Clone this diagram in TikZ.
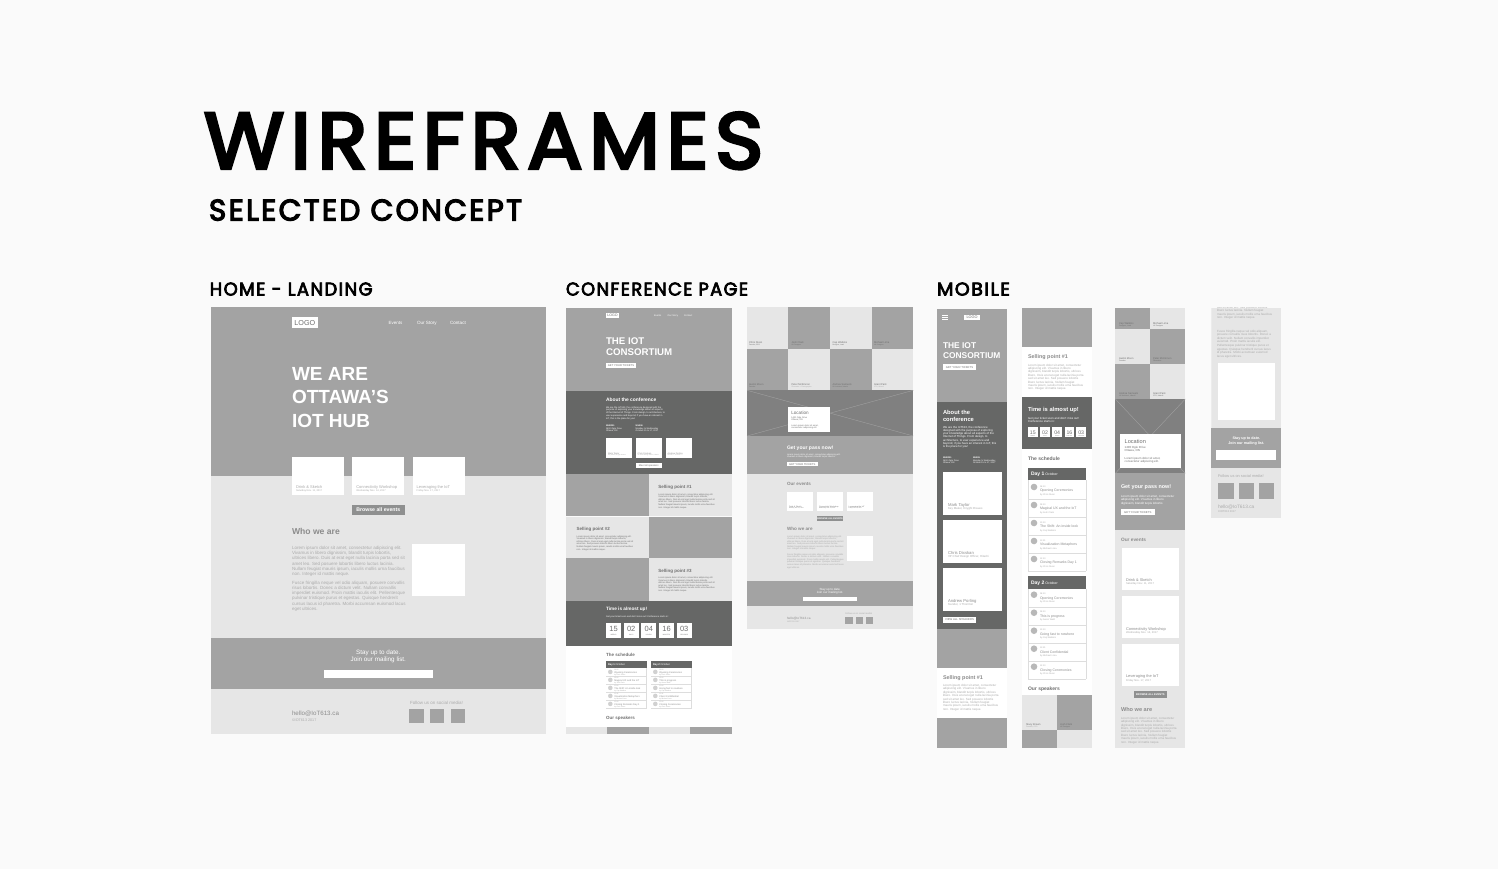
\documentclass[tikz,border=0pt]{standalone}
\usepackage{fontspec}
\usepackage{graphicx}
\setmainfont{Liberation Sans}
\newfontfamily\wfhead[LetterSpace=8,FakeBold=4]{Poppins}
\definecolor{cBg}{HTML}{FAFAFA}
\definecolor{cG}{HTML}{A3A3A3}
\definecolor{cL}{HTML}{E6E6E6}
\definecolor{cD}{HTML}{666766}
\definecolor{cM}{HTML}{808080}
\definecolor{cBtn}{HTML}{8F9090}
\definecolor{cTx}{HTML}{8C8C8C}
\definecolor{cTs}{HTML}{ABABAB}
\definecolor{cTd}{HTML}{707070}
\definecolor{cLn}{HTML}{DDDDDD}
\tikzset{wflbl/.style={inner sep=0pt,outer sep=0pt,anchor=base west},
 wfctr/.style={inner sep=0pt,outer sep=0pt,anchor=base}}
% rectangle x1 y1 x2 y2 colour
\newcommand{\wfR}[5]{\fill[#5] (#1,#2) rectangle (#3,#4);}
% text x y size colour text
\newcommand{\wfT}[5]{\node[wflbl,text=#4,font=\fontsize{#3}{#3}\selectfont] at (#1,#2) {#5};}
\newcommand{\wfB}[5]{\node[wflbl,text=#4,font=\fontsize{#3}{#3}\selectfont\bfseries] at (#1,#2) {#5};}
\newcommand{\wfC}[5]{\node[wfctr,text=#4,font=\fontsize{#3}{#3}\selectfont] at (#1,#2) {#5};}
\newcommand{\wfCB}[5]{\node[wfctr,text=#4,font=\fontsize{#3}{#3}\selectfont\bfseries] at (#1,#2) {#5};}
% lines x y step size colour {{l1},{l2}}
\newcommand{\wfP}[6]{\foreach \wfln [count=\wfi from 0] in {#6} {\pgfmathsetmacro{\wfyy}{#2+#3*\wfi}\node[wflbl,text=#5,font=\fontsize{#4}{#4}\selectfont] at (#1,\wfyy) {\wfln};}}
% heading x y(baseline) w h text
\newcommand{\wfH}[5]{\node[wflbl,text=black] at (#1,#2) {\resizebox{#3pt}{#4pt}{\wfhead #5}};}
\newcommand{\LoremA}[5]{\wfP{#1}{#2}{#3}{#4}{#5}{{Lorem ipsum dolor sit amet, consectetur adipiscing elit.},{Vivamus in libero dignissim, blandit turpis lobortis,},{ultrices libero. Duis at erat eget nulla lacinia porta sed sit},{amet leo. Sed posuere lobortis libero luctus lacinia.},{Nullam feugiat mauris ipsum, iaculis mollis urna faucibus},{non.  Integer id mattis neque.}}}
\newcommand{\LoremB}[5]{\wfP{#1}{#2}{#3}{#4}{#5}{{Fusce fringilla neque vel odio aliquam, posuere convallis},{risus lobortis. Donec a dictum velit. Nullam convallis},{imperdiet euismod. Proin mattis iaculis elit. Pellentesque},{pulvinar tristique purus et egestas. Quisque hendrerit},{cursus lacus id pharetra. Morbi accumsan euismod lacus},{eget ultrices.}}}
\newcommand{\LoremM}[5]{\wfP{#1}{#2}{#3}{#4}{#5}{{Lorem ipsum dolor sit amet, consectetur},{adipiscing elit. Vivamus in libero},{dignissim, blandit turpis lobortis, ultrices},{libero. Duis at erat eget nulla lacinia porta},{sed sit amet leo. Sed posuere lobortis},{libero luctus lacinia. Nullam feugiat},{mauris ipsum, iaculis mollis urna faucibus},{non. Integer id mattis neque.}}}
% small schedule row: x ytop time title by
\newcommand{\wfRowS}[5]{\fill[cLn!80!cG] (#1+4.3,#2+3.6) circle (2.3);
 \wfT{#1+8.3}{#2+2.5}{1.7}{cTs}{#3}\wfT{#1+8.3}{#2+4.7}{2.4}{cTx}{#4}\wfT{#1+8.3}{#2+6.7}{1.7}{cTs}{#5}
 \draw[cLn,line width=.3pt] (#1,#2+8) -- (#1+40.7,#2+8);}
\newcommand{\wfRowB}[5]{\fill[cTs!85!white] (#1+6,#2+5.7) circle (3.3);
 \wfT{#1+12}{#2+5.7}{2.2}{cTs}{#3}\wfT{#1+12}{#2+10.4}{3.5}{cTx}{#4}\wfT{#1+12}{#2+13.7}{2.3}{cTs}{#5}
 \draw[cLn,line width=.5pt] (#1,#2+18) -- (#1+58,#2+18);}
\begin{document}
\begin{tikzpicture}[x=1pt,y=-1pt]
\useasboundingbox (0,0) rectangle (1498,869);
\fill[cBg] (0,0) rectangle (1498,869);
% headings
\wfH{204}{168.5}{559}{56}{WIREFRAMES}
\wfH{209}{220.5}{313}{21}{SELECTED CONCEPT}
\wfH{209.8}{295.5}{162.8}{13}{HOME - LANDING}
\wfH{566}{295.5}{182}{13}{CONFERENCE PAGE}
\wfH{937}{295.5}{73}{13}{MOBILE}
% ---------- HOME
\wfR{211}{307.3}{546}{476}{cG}
\wfR{211}{476}{546}{638}{cL}
\wfR{211}{638}{546}{689}{cG}
\wfR{211}{689}{546}{733.5}{cL}
\wfR{292}{317.3}{317.7}{327.7}{white}
\wfC{304.8}{325.3}{7.2}{cTd}{LOGO}
\wfT{388.7}{324.7}{4.5}{white}{Events}
\wfT{417}{324.7}{4.6}{white}{Our Story}
\wfT{450}{324.7}{4.6}{white}{Contact}
\wfB{292}{380}{19}{white}{WE ARE}
\wfB{292}{403.7}{19}{white}{OTTAWA’S}
\wfB{292}{427.3}{19}{white}{IOT HUB}
\wfR{292}{457}{344.3}{495.3}{white}
\wfR{352.3}{457}{404.3}{495.3}{white}
\wfR{412.7}{457}{464.7}{495.3}{white}
\wfT{296}{488.6}{4}{cTs}{Drink \& Sketch}\wfT{296}{491.8}{2.5}{cTs}{Saturday Nov. 11, 2017}
\wfT{356.3}{488.6}{4}{cTs}{Connectivity Workshop}\wfT{356.3}{491.8}{2.5}{cTs}{Wednesday Nov. 14, 2017}
\wfT{416.7}{488.6}{4}{cTs}{Leveraging the IoT}\wfT{416.7}{491.8}{2.5}{cTs}{Friday Nov. 17, 2017}
\wfR{352}{505}{404.7}{514.7}{cBtn}
\wfCB{378.3}{511.9}{5.2}{white}{Browse all events}
\wfB{292}{534.7}{8.6}{cTx}{Who we are}
\LoremA{292}{549.5}{5.2}{4.5}{cTs}
\LoremB{292}{584.3}{5.2}{4.5}{cTs}
\wfR{412.3}{544.3}{464.7}{596.3}{white}
\wfC{378.3}{654.8}{6.3}{white}{Stay up to date.}
\wfC{378.3}{661.9}{6.3}{white}{Join our mailing list.}
\wfR{324}{670}{432.7}{678}{white}
\wfT{292}{715.7}{6.2}{cTx}{hello@IoT613.ca}
\wfT{292}{721.3}{3.7}{cTs}{©IOT613 2017}
\wfT{410}{704.7}{4.5}{cTs}{Follow us on social media!}
\wfR{409.3}{709.3}{423.7}{723.3}{cG}
\wfR{430}{709.3}{444.3}{723.3}{cG}
\wfR{451}{709.3}{465}{723.3}{cG}
% ---------- CONFERENCE PAGE 1
\wfR{565.7}{307.7}{732}{391}{cG}
\wfR{565.7}{391}{732}{474}{cD}
\wfR{606}{312.7}{619}{318}{white}
\wfC{612.5}{316.6}{3.6}{cTd}{LOGO}
\wfT{654}{316.5}{2.4}{white}{Events}
\wfT{667.7}{316.5}{2.4}{white}{Our Story}
\wfT{684}{316.5}{2.4}{white}{Contact}
\wfB{606}{344}{9.7}{white}{THE IOT}
\wfB{606}{355.7}{9.7}{white}{CONSORTIUM}
\wfR{606}{363.3}{636}{368}{white}
\wfC{621}{366.6}{2.7}{cTd}{GET YOUR TICKETS}
\wfB{606}{401.7}{4.9}{white}{About the conference}
\wfP{606}{408}{2.75}{2.35}{white}{{We are the IoT613, the conference designed with the},{purpose of exploring your knowledge about all aspects},{of the Internet of Things. From design, to architecture, to},{user experience and beyond, if you have an interest in},{IoT, this is the place for you!}}
\wfP{606}{426.3}{2.7}{2.2}{white}{{\bfseries WHERE:},{1400 Ogle Drive},{Ottawa, ON}}
\wfP{635.7}{426.3}{2.7}{2.2}{white}{{\bfseries WHEN:},{Monday to Wednesday},{October 15 to 17, 2017}}
\wfR{606}{438.3}{631.7}{457.7}{white}
\wfR{635.7}{438.3}{661.7}{457.7}{white}
\wfR{665.7}{438.3}{691.7}{457.7}{white}
\wfT{608}{454.2}{2.2}{cTx}{Mark Taylor}\wfT{608}{455.9}{1.5}{cTs}{Key Maker, Knyght Draues}
\wfT{637.7}{454.2}{2.2}{cTx}{Chris Dixskan}\wfT{637.7}{455.9}{1.5}{cTs}{VP Chief Design Officer, Hitachi}
\wfT{667.7}{454.2}{2.2}{cTx}{Andrew Porling}\wfT{667.7}{455.9}{1.5}{cTs}{founder, 1 Thornton}
\wfR{635.7}{463.3}{661.7}{468}{white}
\wfC{648.7}{466.6}{2.5}{cTd}{Meet all speakers}
% selling rows
\wfR{565.7}{474}{648.5}{516.3}{cG}
\wfR{649}{474}{732}{516.3}{cL}
\wfR{565.7}{516.7}{648.5}{557.9}{cL}
\wfR{649}{516.7}{732}{557.9}{cG}
\wfR{565.7}{558.4}{648.5}{600.7}{cG}
\wfR{649}{558.4}{732}{600.7}{cL}
\wfB{658.3}{488.3}{4.5}{cTd}{Selling point \#1}
\LoremA{658.3}{495}{2.6}{2.25}{cTd}
\wfB{576.7}{530}{4.5}{cTd}{Selling point \#2}
\LoremA{576.7}{537}{2.6}{2.25}{cTd}
\wfB{658.3}{572}{4.5}{cTd}{Selling point \#3}
\LoremA{658.3}{578.5}{2.6}{2.25}{cTd}
\wfR{565.7}{600.7}{732}{646}{cD}
\wfB{606}{610.7}{4.7}{white}{Time is almost up!}
\wfT{606}{617.3}{2.3}{white}{Get your ticket soon and don't miss out! Conference starts in:}
\foreach \nx/\nv/\nl in {606/15/WEEKS,623.7/02/DAYS,641.3/04/HOURS,659/16/MINUTES,676.7/03/SECONDS}{
 \wfR{\nx}{623.3}{\nx+15}{638.3}{white}
 \wfC{\nx+7.5}{631.8}{7.5}{cTd}{\nv}
 \wfC{\nx+7.5}{635.6}{1.6}{cTd}{\nl}
}
\wfR{565.7}{646}{732}{727.3}{white}
\wfB{606}{656.7}{4.5}{cTd}{The schedule}
\wfR{606}{661}{646.7}{668}{cD}
\wfR{651}{661}{691.7}{668}{cD}
\wfT{608}{665.6}{2.6}{white}{\textbf{Day 1} October}
\wfT{653}{665.6}{2.6}{white}{\textbf{Day 2} October}
\wfRowS{606}{668.3}{08:30}{Opening Ceremonies}{by Chris Dixon}
\wfRowS{606}{676.3}{09:30}{Magical UX and the IoT}{by Josh Clark}
\wfRowS{606}{684.3}{10:30}{The Shift: An inside look}{by Cap Watkins}
\wfRowS{606}{692.3}{11:30}{Visualization Metaphors}{by Michael Lima}
\wfRowS{606}{700.3}{12:30}{Closing Remarks Day 1}{by Chris Dixon}
\wfRowS{651}{668.3}{08:30}{Opening Ceremonies}{by Chris Dixon}
\wfRowS{651}{676.3}{09:30}{This is progress}{by Aaron Wald}
\wfRowS{651}{684.3}{10:30}{Going fast to nowhere}{by Cap Watkins}
\wfRowS{651}{692.3}{11:30}{Client Confidential}{by Michael Lima}
\wfRowS{651}{700.3}{12:30}{Closing Ceremonies}{by Chris Dixon}
\draw[cLn,line width=.3pt] (646.5,668)--(646.5,708.3) (691.5,668)--(691.5,708.3);
\wfB{606}{719.3}{4.5}{cTd}{Our speakers}
\wfR{565.7}{727.3}{607.2}{734}{cL}
\wfR{607.2}{727.3}{648.5}{734}{cG}
\wfR{648.5}{727.3}{690}{734}{cL}
\wfR{690}{727.3}{732}{734}{cG}
% ---------- CONFERENCE PAGE 2
\wfR{747}{307.3}{788.3}{348.7}{cL}
\wfR{788.3}{307.3}{830}{348.7}{cG}
\wfR{830}{307.3}{871.5}{348.7}{cL}
\wfR{871.5}{307.3}{913.3}{348.7}{cG}
\wfR{747}{348.7}{788.3}{390.3}{cG}
\wfR{788.3}{348.7}{830}{390.3}{cL}
\wfR{830}{348.7}{871.5}{390.3}{cG}
\wfR{871.5}{348.7}{913.3}{390.3}{cL}
\wfT{749}{343.3}{2.6}{cTd}{Chris Dixon}\wfT{749}{345.4}{1.7}{cTd}{Founder, CEO}
\wfT{791.5}{343.3}{2.6}{cTd}{Josh Clark}\wfT{791.5}{345.4}{1.7}{cTd}{UX Designer}
\wfT{832.5}{343.3}{2.6}{cTd}{Cap Watkins}\wfT{832.5}{345.4}{1.7}{cTd}{Designer, Lead}
\wfT{874}{343.3}{2.6}{cTd}{Michael Lima}\wfT{874}{345.4}{1.7}{cTd}{UX Designer}
\wfT{749}{385}{2.6}{cTd}{Austin Moon}\wfT{749}{387.1}{1.7}{cTd}{Founder}
\wfT{791.5}{385}{2.6}{cTd}{Peter McKinnon}\wfT{791.5}{387.1}{1.7}{cTs}{Filmmaker + Photographer}
\wfT{832.5}{385}{2.6}{cTd}{Andrea Samuels}\wfT{832.5}{387.1}{1.7}{cTd}{UX Architect, Hitachi}
\wfT{874}{385}{2.6}{cTd}{Grant Park}\wfT{874}{387.1}{1.7}{cTs}{CTO, Ubisoft}
\wfR{747}{390.3}{913.3}{436}{cM}
\draw[cG,line width=.35pt] (747,390.3)--(913.3,436) (747,436)--(913.3,390.3);
\wfR{788.3}{407.3}{830}{431.7}{white}
\wfT{791.3}{414.7}{4.6}{cTd}{Location}
\wfP{791.3}{418}{2.4}{2.2}{cTd}{{1400 Ogle Drive},{Ottawa, ON}}
\wfP{791.3}{426}{2.3}{2.2}{cTd}{{Lorem ipsum dolor sit amet,},{consectetur adipiscing elit.}}
\wfR{747}{436}{913.3}{474.3}{cG}
\wfB{787}{449.7}{5}{white}{Get your pass now!}
\wfP{787}{455}{2.5}{2.2}{white}{{Lorem ipsum dolor sit amet, consectetur adipiscing elit.},{Vivamus in libero dignissim, blandit turpis lobortis.}}
\wfR{787}{461.7}{817.7}{466.3}{white}
\wfC{802.3}{465}{2.7}{cTd}{GET YOUR TICKETS}
\wfR{747}{474.3}{913.3}{581.3}{cL}
\wfB{787}{485.7}{4.6}{cTx}{Our events}
\wfR{787}{492}{813.3}{511}{white}
\wfR{817}{492}{843.3}{511}{white}
\wfR{846.7}{492}{873}{511}{white}
\wfT{789}{507}{1.9}{cTd}{Drink \& Sketch}\wfT{789}{508.8}{1.4}{cTd}{Saturday Nov. 11, 2017}
\wfT{819}{507}{1.9}{cTd}{Connectivity Workshop}\wfT{819}{508.8}{1.4}{cTd}{Wednesday Nov. 14, 2017}
\wfT{848.7}{507}{1.9}{cTd}{Leveraging the IoT}\wfT{848.7}{508.8}{1.4}{cTd}{Friday Nov. 17, 2017}
\wfR{817}{516}{843}{520.7}{cBtn}
\wfCB{830}{519.3}{2.3}{white}{BROWSE ALL EVENTS}
\wfB{787}{530.3}{4.6}{cTx}{Who we are}
\LoremA{787}{537}{2.55}{2.25}{cTs}
\LoremB{787}{555}{2.6}{2.25}{cTs}
\wfR{846.7}{535.7}{872.7}{561.3}{white}
\wfR{747}{581.3}{913.3}{606.3}{cG}
\wfC{830}{590}{3}{white}{Stay up to date.}
\wfC{830}{593.3}{3}{white}{Join our mailing list.}
\wfR{803.3}{597.3}{857}{601.3}{white}
\wfR{747}{606.3}{913.3}{629}{cL}
\wfT{787}{619.3}{3.1}{cTx}{hello@IoT613.ca}
\wfT{787}{622.3}{1.9}{cTs}{©IOT613 2017}
\wfT{845.3}{614.3}{2.3}{cTs}{Follow us on social media!}
\wfR{845.3}{616.7}{852.7}{624}{cG}
\wfR{855.7}{616.7}{863}{624}{cG}
\wfR{866}{616.7}{873}{624}{cG}
% ---------- MOBILE 1
\wfR{937}{308.7}{1006.7}{402.3}{cG}
\wfR{937}{402.3}{1006.7}{628.7}{cD}
\wfR{937}{628.7}{1006.7}{667.7}{cG}
\wfR{937}{667.7}{1006.7}{718.3}{white}
\wfR{937}{718.3}{1006.7}{747.7}{cG}
\draw[white,line width=.4pt] (942.3,315.3)--(948,315.3) (942.3,317)--(948,317) (942.3,318.7)--(948,318.7);
\wfR{964.3}{314.7}{979.7}{320}{white}
\wfC{972}{318.6}{3.8}{cTd}{LOGO}
\wfB{943}{348.7}{8.4}{white}{THE IOT}
\wfB{943}{358.7}{8.4}{white}{CONSORTIUM}
\wfR{943}{364.3}{976}{370.3}{white}
\wfC{959.5}{368.3}{2.8}{cTd}{GET YOUR TICKETS}
\wfB{943}{414}{5.8}{white}{About the}
\wfB{943}{421}{5.8}{white}{conference}
\wfP{943}{428.3}{3.2}{2.9}{white}{{We are the IoT613, the conference},{designed with the purpose of exploring},{your knowledge about all aspects of the},{Internet of Things. From design, to},{architecture, to user experience and},{beyond, if you have an interest in IoT, this},{is the place for you!}}
\wfP{943}{458.7}{2.6}{2.2}{white}{{\bfseries WHERE:},{1400 Ogle Drive},{Ottawa, ON}}
\wfP{973}{458.7}{2.6}{2.2}{white}{{\bfseries WHEN:},{Monday to Wednesday},{October 15 to 17, 2017}}
\wfR{943}{471.7}{1001.7}{514.7}{white}
\wfR{943}{520}{1001.7}{563.3}{white}
\wfR{943}{568}{1001.7}{611}{white}
\wfT{948}{506}{4.2}{cTx}{Mark Taylor}\wfT{948}{509.3}{2.9}{cTs}{Key Maker, Knyght Draues}
\wfT{948}{554.7}{4.2}{cTx}{Chris Dixskan}\wfT{948}{557.8}{2.9}{cTs}{VP Chief Design Officer, Hitachi}
\wfT{948}{602.3}{4.2}{cTx}{Andrew Porling}\wfT{948}{605.7}{2.9}{cTs}{founder, 1 Thornton}
\wfR{943}{616.7}{976}{622.7}{white}
\wfC{959.5}{620.7}{2.8}{cTd}{VIEW ALL SPEAKERS}
\wfB{943}{679}{5.4}{cTx}{Selling point \#1}
\LoremM{943}{686.5}{3.4}{3}{cTs}
% ---------- MOBILE 2
\wfR{1022}{307.7}{1092}{347}{cG}
\wfR{1022}{347}{1092}{397.3}{white}
\wfB{1028}{358}{5.4}{cTx}{Selling point \#1}
\LoremM{1028}{366}{3.4}{3}{cTs}
\wfR{1022}{397.3}{1092}{449.3}{cD}
\wfB{1028}{411.3}{5.8}{white}{Time is almost up!}
\wfP{1028}{419}{3.6}{2.9}{white}{{Get your ticket soon and don't miss out!},{Conference starts in:}}
\foreach \nx/\nv/\nl in {1028/15/WEEKS,1040.2/02/DAYS,1052.4/04/HOURS,1064.6/16/MINUTES,1076.4/03/SECONDS}{
 \wfR{\nx}{427}{\nx+9.6}{437}{white}
 \wfC{\nx+4.8}{434}{5.2}{cTd}{\nv}
 \wfC{\nx+4.8}{436.2}{1.2}{cTd}{\nl}
}
\wfR{1022}{449.3}{1092}{695.3}{white}
\wfB{1028}{460.7}{5}{cTd}{The schedule}
\wfR{1028}{467.7}{1086}{480.3}{cD}
\wfT{1031}{475.8}{3.5}{white}{{\bfseries\fontsize{5}{5}\selectfont Day 1} October}
\wfRowB{1028}{481.3}{08:30}{Opening Ceremonies}{by Chris Dixon}
\wfRowB{1028}{499.3}{09:30}{Magical UX and the IoT}{by Josh Clark}
\wfRowB{1028}{517.3}{10:30}{The Shift: An inside look}{by Cap Watkins}
\wfRowB{1028}{535.3}{11:30}{Visualization Metaphors}{by Michael Lima}
\wfRowB{1028}{553.3}{12:30}{Closing Remarks Day 1}{by Chris Dixon}
\draw[cLn,line width=.5pt] (1028.2,480.3)--(1028.2,571.3) (1085.8,480.3)--(1085.8,571.3);
\wfR{1028}{576}{1086}{588.7}{cD}
\wfT{1031}{584}{3.5}{white}{{\bfseries\fontsize{5}{5}\selectfont Day 2} October}
\wfRowB{1028}{589}{08:30}{Opening Ceremonies}{by Chris Dixon}
\wfRowB{1028}{607}{09:30}{This is progress}{by Aaron Wald}
\wfRowB{1028}{625}{10:30}{Going fast to nowhere}{by Cap Watkins}
\wfRowB{1028}{643}{11:30}{Client Confidential}{by Michael Lima}
\wfRowB{1028}{661}{12:30}{Closing Ceremonies}{by Chris Dixon}
\draw[cLn,line width=.5pt] (1028.2,588.7)--(1028.2,679) (1085.8,588.7)--(1085.8,679);
\wfB{1028}{690}{5}{cTd}{Our speakers}
\wfR{1022}{695.3}{1057}{729.7}{cL}
\wfR{1057}{695.3}{1092}{729.7}{cG}
\wfR{1022}{729.7}{1057}{747.7}{cG}
\wfR{1057}{729.7}{1092}{747.7}{cL}
\wfT{1026}{725}{2.6}{cTd}{Stacy Brown}\wfT{1026}{727.5}{1.8}{cTs}{Founder, CEO}
\wfT{1060}{725}{2.6}{cTd}{Josh Clark}\wfT{1060}{727.5}{1.8}{cTd}{UX Designer}
% ---------- MOBILE 3
\wfR{1115.3}{307.7}{1150}{329}{cG}
\wfR{1150}{307.7}{1185.3}{329}{cL}
\wfR{1115.3}{329}{1150}{364}{cL}
\wfR{1150}{329}{1185.3}{364}{cG}
\wfR{1115.3}{364}{1150}{399}{cG}
\wfR{1150}{364}{1185.3}{399}{cL}
\wfT{1119}{324}{2.6}{cTd}{Cap Watkins}\wfT{1119}{326.2}{1.8}{cTd}{Designer, Lead}
\wfT{1153}{324}{2.6}{cTd}{Michael Lima}\wfT{1153}{326.2}{1.8}{cTd}{UX Designer}
\wfT{1119}{359}{2.6}{cTd}{Austin Moon}\wfT{1119}{361.3}{1.8}{cTd}{Founder}
\wfT{1153}{359}{2.6}{cTd}{Peter McKinnon}\wfT{1153}{361.3}{1.8}{cTd}{Filmmaker}
\wfT{1119}{394}{2.6}{cTd}{Andrea Samuels}\wfT{1119}{396.3}{1.8}{cTd}{UX Architect, Hitachi}
\wfT{1153}{394}{2.6}{cTd}{Grant Park}\wfT{1153}{396.3}{1.8}{cTd}{CTO, Ubisoft}
\wfR{1115.3}{399}{1185.3}{473.3}{cM}
\draw[cG,line width=.35pt] (1115.3,399)--(1185.3,473.3) (1115.3,473.3)--(1185.3,399);
\wfR{1120.3}{434}{1180.7}{468.3}{white}
\wfT{1124.7}{443}{5.6}{cTd}{Location}
\wfP{1124.7}{448.3}{3.6}{2.9}{cTd}{{1400 Ogle Drive},{Ottawa, ON}}
\wfP{1124.7}{459}{3.5}{2.9}{cTd}{{Lorem ipsum dolor sit amet,},{consectetur adipiscing elit.}}
\wfR{1115.3}{473.3}{1185.3}{529.7}{cG}
\wfB{1121}{488.7}{5.4}{white}{Get your pass now!}
\wfP{1121}{497.3}{3.5}{3}{white}{{Lorem ipsum dolor sit amet, consectetur},{adipiscing elit. Vivamus in libero},{dignissim, blandit turpis lobortis}}
\wfR{1121}{509.3}{1154.7}{515.3}{white}
\wfC{1137.8}{513.3}{2.8}{cTd}{GET YOUR TICKETS}
\wfR{1115.3}{529.7}{1185.3}{747.7}{cL}
\wfB{1121}{541}{4.8}{cTx}{Our events}
\wfR{1121.7}{547.7}{1179.3}{590}{white}
\wfR{1121.7}{595.7}{1179.3}{638}{white}
\wfR{1121.7}{643.7}{1179.3}{686.3}{white}
\wfT{1126}{581.3}{3.9}{cTx}{Drink \& Sketch}\wfT{1126}{584.9}{2.7}{cTs}{Saturday Nov. 11, 2017}
\wfT{1126}{630}{3.9}{cTx}{Connectivity Workshop}\wfT{1126}{633.3}{2.7}{cTs}{Wednesday Nov. 14, 2017}
\wfT{1126}{677.7}{3.9}{cTx}{Leveraging the IoT}\wfT{1126}{681}{2.7}{cTs}{Friday Nov. 17, 2017}
\wfR{1133.7}{691.3}{1167}{697.7}{cBtn}
\wfCB{1150.3}{695.5}{2.6}{white}{BROWSE ALL EVENTS}
\wfB{1121}{711.3}{5.6}{cTx}{Who we are}
\LoremM{1121}{719.3}{3.4}{3}{cTs}
% ---------- MOBILE 4
\begin{scope}
\clip (1211.3,307.7) rectangle (1281.3,518.3);
\wfR{1211.3}{307.7}{1281.3}{428.3}{cL}
\wfP{1217}{308.3}{3.4}{3}{cTs}{{sed sit amet leo. Sed posuere lobortis},{libero luctus lacinia. Nullam feugiat},{mauris ipsum, iaculis mollis urna faucibus},{non. Integer id mattis neque.}}
\end{scope}
\wfP{1217}{332.3}{3.55}{3}{cTs}{{Fusce fringilla neque vel odio aliquam,},{posuere convallis risus lobortis. Donec a},{dictum velit. Nullam convallis imperdiet},{euismod. Proin mattis iaculis elit.},{Pellentesque pulvinar tristique purus et},{egestas. Quisque hendrerit cursus lacus},{id pharetra. Morbi accumsan euismod},{lacus eget ultrices.}}
\wfR{1217.7}{362.7}{1275.3}{420.3}{white}
\wfR{1211.3}{428.3}{1281.3}{467.7}{cG}
\wfCB{1246.3}{439}{3.7}{white}{Stay up to date.}
\wfCB{1246.3}{444}{3.7}{white}{Join our mailing list.}
\wfR{1216}{450}{1276.3}{459.7}{white}
\wfR{1211.3}{467.7}{1281.3}{518.3}{cL}
\wfT{1218}{477.3}{3.9}{cTs}{Follow us on social media!}
\wfR{1218.3}{483}{1234}{498.7}{cG}
\wfR{1238.7}{483}{1254.3}{498.7}{cG}
\wfR{1258.7}{483}{1274.3}{498.7}{cG}
\wfT{1218}{508.7}{4.8}{cTs}{hello@IoT613.ca}
\wfT{1218}{512.7}{2.7}{cTs}{©IOT613 2017}
\end{tikzpicture}
\end{document}
